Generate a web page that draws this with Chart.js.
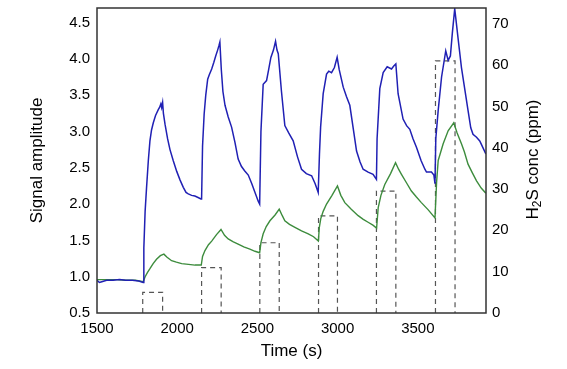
<!DOCTYPE html>
<html>
<head>
<meta charset="utf-8">
<script src="https://cdn.jsdelivr.net/npm/chart.js@4"></script>
<style>
  body { margin: 0; background: #fff; }
  canvas { display: block; }
</style>
</head>
<body>
<canvas id="myChart" width="567" height="369"></canvas>
<script>
// values
const blueTime = [1500, 1515, 1530, 1560, 1600, 1640, 1680, 1720, 1760, 1788,
  1792, 1800, 1809, 1820, 1830, 1840, 1851, 1865, 1882, 1890, 1898, 1903, 1909,
  1914, 1924, 1940, 1955, 1975, 1997, 2018, 2038, 2055, 2069, 2090, 2110, 2130, 2148,
  2152, 2158, 2168, 2178, 2190, 2200, 2215, 2228, 2240, 2252, 2260, 2266,
  2275, 2285, 2298, 2318, 2339, 2360, 2380, 2400, 2420, 2443, 2465, 2485, 2505, 2514,
  2522, 2536, 2557, 2570, 2584, 2600, 2613, 2622, 2630,
  2650, 2671, 2695, 2723, 2750, 2775, 2805, 2838, 2860, 2879,
  2887, 2894, 2910, 2931, 2945, 2962, 2980, 2997,
  3010, 3035, 3055, 3076, 3100, 3118, 3140, 3159, 3190, 3221, 3242,
  3246, 3263, 3284, 3309, 3336, 3350, 3363,
  3377, 3408, 3430, 3450, 3470, 3492, 3520, 3544, 3554, 3585, 3600, 3607,
  3612, 3627, 3648, 3674, 3689, 3703, 3715, 3730,
  3750, 3772, 3795, 3813, 3830, 3844, 3866, 3886, 3905, 3924];
const blueSignal = [0.95, 0.92, 0.93, 0.95, 0.95, 0.96, 0.95, 0.95, 0.94, 0.92,
  1.40, 1.90, 2.23, 2.60, 2.87, 3.02, 3.12, 3.22, 3.30, 3.33, 3.38, 3.33, 3.40,
  3.25, 3.10, 2.90, 2.75, 2.60, 2.45, 2.33, 2.23, 2.16, 2.14, 2.12, 2.11, 2.09, 2.07,
  2.07, 2.80, 3.24, 3.50, 3.72, 3.78, 3.86, 3.95, 4.04, 4.12, 4.18, 4.23,
  3.85, 3.55, 3.36, 3.20, 3.06, 2.85, 2.62, 2.52, 2.46, 2.40, 2.28, 2.16, 2.04, 2.00,
  3.00, 3.65, 3.70, 3.85, 4.02, 4.12, 4.24, 4.12, 4.07,
  3.55, 3.08, 2.98, 2.87, 2.65, 2.48, 2.42, 2.39, 2.28, 2.16,
  2.70, 3.06, 3.52, 3.79, 3.83, 3.81, 3.88, 4.02,
  3.85, 3.61, 3.48, 3.36, 3.00, 2.73, 2.58, 2.48, 2.44, 2.41, 2.34,
  2.90, 3.59, 3.81, 3.89, 3.86, 3.90, 3.93,
  3.52, 3.17, 3.08, 3.03, 2.90, 2.78, 2.60, 2.48, 2.44, 2.44, 2.40, 2.28,
  2.90, 3.29, 3.75, 4.11, 3.98, 4.04, 4.35, 4.69,
  4.30, 3.88, 3.55, 3.29, 3.05, 2.96, 2.92, 2.87, 2.78, 2.69];

const greenTime = [1500, 1560, 1620, 1680, 1740, 1788,
  1800, 1815, 1830, 1850, 1871, 1895, 1917, 1935, 1965, 1995, 2028, 2070, 2111, 2150,
  2158, 2173, 2195, 2215, 2245, 2273, 2295, 2318, 2350, 2380, 2415, 2453, 2485, 2514,
  2522, 2536, 2555, 2578, 2610, 2636, 2655, 2671, 2700, 2734, 2775, 2817, 2850, 2880,
  2886, 2895, 2910, 2931, 2965, 2999, 3020, 3045, 3085, 3128, 3160, 3190, 3220, 3243,
  3253, 3270, 3294, 3330, 3361, 3380, 3398, 3430, 3460, 3490, 3522, 3565, 3607,
  3617, 3627, 3658, 3689, 3724, 3745, 3772, 3790, 3813, 3840, 3866, 3895, 3924];
const greenSignal = [0.96, 0.96, 0.96, 0.95, 0.95, 0.93,
  1.00, 1.06, 1.11, 1.18, 1.24, 1.29, 1.31, 1.27, 1.22, 1.20, 1.18, 1.17, 1.16, 1.16,
  1.28, 1.36, 1.44, 1.49, 1.58, 1.65, 1.57, 1.52, 1.48, 1.45, 1.41, 1.38, 1.35, 1.33,
  1.47, 1.59, 1.69, 1.77, 1.85, 1.93, 1.84, 1.77, 1.72, 1.68, 1.63, 1.59, 1.55, 1.49,
  1.68, 1.80, 1.90, 2.00, 2.12, 2.25, 2.12, 2.02, 1.93, 1.84, 1.79, 1.75, 1.71, 1.67,
  1.95, 2.12, 2.27, 2.42, 2.57, 2.48, 2.41, 2.29, 2.18, 2.10, 2.02, 1.92, 1.81,
  2.30, 2.60, 2.83, 3.01, 3.12, 2.98, 2.83, 2.72, 2.55, 2.43, 2.32, 2.22, 2.15];

const pulseStart = [1785, 2152, 2515, 2881, 3242, 3610];
const pulseEnd = [1909, 2274, 2636, 2999, 3363, 3732];
const pulseConc = [5, 11, 17, 23.5, 29.5, 61];

const timeTicks = [1500, 2000, 2500, 3000, 3500];
const signalTicks = [0.5, 1.0, 1.5, 2.0, 2.5, 3.0, 3.5, 4.0, 4.5];
const concTicks = [0, 10, 20, 30, 40, 50, 60, 70];

const FONT = '"Liberation Sans", Arial, sans-serif';

const toPoints = (xs, ys) => xs.map((x, i) => ({ x: x, y: ys[i] }));

let pulsePoints = [];
pulseStart.forEach((s, i) => {
  pulsePoints.push({ x: s, y: 0 }, { x: s, y: pulseConc[i] },
    { x: pulseEnd[i], y: pulseConc[i] }, { x: pulseEnd[i], y: 0 },
    { x: pulseEnd[i] + 1, y: null });
});

const fixTicks = (vals) => (scale) => {
  scale.ticks = vals.map((v) => ({ value: v }));
};

const fitSize = (prop, size) => (scale) => {
  scale[prop] = size;
  scale.paddingTop = 0;
  scale.paddingBottom = 0;
  scale.paddingLeft = 0;
  scale.paddingRight = 0;
};

const frame = {
  id: "frame",
  afterDatasetsDraw(chart) {
    const { ctx, chartArea: a } = chart;
    ctx.save();
    ctx.strokeStyle = "#333";
    ctx.lineWidth = 1.5;
    ctx.strokeRect(a.left, a.top, a.right - a.left, a.bottom - a.top);
    ctx.restore();
  },
};

// right axis title reads bottom to top, with a subscript 2
const h2sTitle = {
  id: "h2sTitle",
  afterDraw(chart) {
    const { ctx, chartArea: a } = chart;
    const big = "17px " + FONT;
    const small = "12px " + FONT;
    ctx.save();
    ctx.translate(a.right + 47, (a.top + a.bottom) / 2 - 1);
    ctx.rotate(-Math.PI / 2);
    ctx.fillStyle = "#000";
    ctx.textBaseline = "middle";
    ctx.textAlign = "left";
    ctx.font = big;
    const w1 = ctx.measureText("H").width;
    const w3 = ctx.measureText("S conc (ppm)").width;
    ctx.font = small;
    const w2 = ctx.measureText("2").width;
    let x = -(w1 + w2 + w3) / 2;
    ctx.font = big;
    ctx.fillText("H", x, 0);
    x += w1;
    ctx.font = small;
    ctx.fillText("2", x, 5);
    x += w2;
    ctx.font = big;
    ctx.fillText("S conc (ppm)", x, 0);
    ctx.restore();
  },
};

Chart.defaults.color = "#000";
Chart.defaults.font.family = FONT;

const noGrid = { display: false, drawTicks: false };

new Chart(document.getElementById("myChart").getContext("2d"), {
  type: "line",
  data: {
    datasets: [
      {
        label: "blue",
        data: toPoints(blueTime, blueSignal),
        yAxisID: "y",
        borderColor: "#2020b4",
        borderWidth: 1.5,
        pointRadius: 0,
        tension: 0,
      },
      {
        label: "green",
        data: toPoints(greenTime, greenSignal),
        yAxisID: "y",
        borderColor: "#3d8c3d",
        borderWidth: 1.4,
        pointRadius: 0,
        tension: 0,
      },
      {
        label: "H2S",
        data: pulsePoints,
        yAxisID: "y2",
        borderColor: "#555",
        borderWidth: 1.2,
        borderDash: [5, 4],
        pointRadius: 0,
        spanGaps: false,
      },
    ],
  },
  options: {
    responsive: false,
    animation: false,
    events: [],
    layout: { padding: { top: 8, left: 0, right: 0, bottom: 0 } },
    plugins: { legend: { display: false }, tooltip: { enabled: false } },
    scales: {
      x: {
        type: "linear",
        min: 1500,
        max: 3925,
        grid: noGrid,
        border: { display: false },
        afterBuildTicks: fixTicks(timeTicks),
        afterFit: fitSize("height", 56),
        ticks: { font: { size: 15 }, padding: 7, maxRotation: 0, callback: (v) => v },
        title: { display: true, text: "Time (s)", font: { size: 17 }, padding: { bottom: 7, top: 0 } },
      },
      y: {
        position: "left",
        min: 0.5,
        max: 4.7,
        grid: noGrid,
        border: { display: false },
        afterBuildTicks: fixTicks(signalTicks),
        afterFit: fitSize("width", 97),
        ticks: { font: { size: 15 }, padding: 7, callback: (v) => v.toFixed(1) },
        title: { display: true, text: "Signal amplitude", font: { size: 17 }, padding: { top: 27, bottom: 0 } },
      },
      y2: {
        position: "right",
        min: 0,
        max: 73.8,
        grid: noGrid,
        border: { display: false },
        afterBuildTicks: fixTicks(concTicks),
        afterFit: fitSize("width", 81),
        ticks: { font: { size: 15 }, padding: 6, callback: (v) => v },
      },
    },
  },
  plugins: [frame, h2sTitle],
});
</script>
</body>
</html>
